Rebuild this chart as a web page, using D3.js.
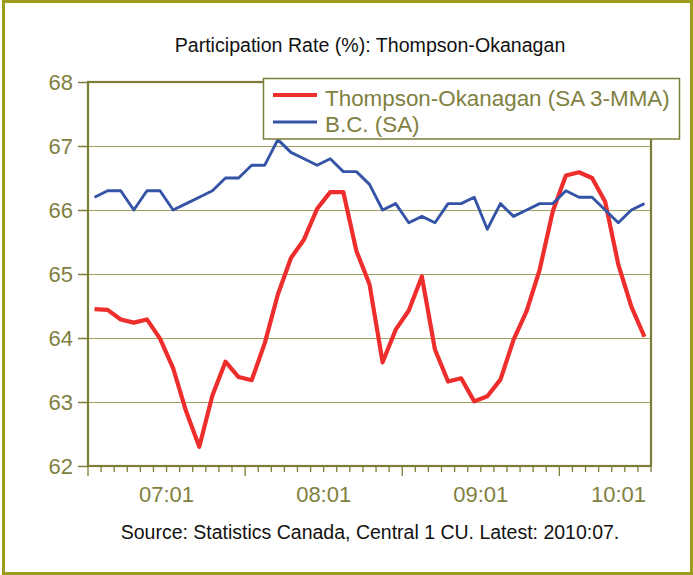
<!DOCTYPE html>
<html>
<head>
<meta charset="utf-8">
<script src="https://cdn.jsdelivr.net/npm/d3@7"></script>
<style>
  body { margin: 0; background: #fff; }
  svg { display: block; }
  text { font-family: "Liberation Sans", Arial, sans-serif; }
</style>
</head>
<body>
<svg id="chart" width="693" height="575"></svg>
<script>
// monthly categories, 2007:01 .. 2010:07
const months = [
  "07:01","07:02","07:03","07:04","07:05","07:06","07:07","07:08","07:09","07:10","07:11","07:12",
  "08:01","08:02","08:03","08:04","08:05","08:06","08:07","08:08","08:09","08:10","08:11","08:12",
  "09:01","09:02","09:03","09:04","09:05","09:06","09:07","09:08","09:09","09:10","09:11","09:12",
  "10:01","10:02","10:03","10:04","10:05","10:06","10:07"
];

// Thompson-Okanagan (SA 3-MMA)
const thompson = [
  64.45, 64.44, 64.29, 64.24, 64.29, 63.99, 63.53, 62.85, 62.30, 63.10, 63.63, 63.39,
  63.34, 63.92, 64.68, 65.25, 65.54, 66.02, 66.28, 66.28, 65.36, 64.84, 63.62, 64.13,
  64.43, 64.96, 63.82, 63.32, 63.37, 63.01, 63.09, 63.35, 63.97, 64.42, 65.07, 65.98,
  66.54, 66.59, 66.50, 66.13, 65.15, 64.49, 64.02
];

// B.C. (SA)
const bc = [
  66.2, 66.3, 66.3, 66.0, 66.3, 66.3, 66.0, 66.1, 66.2, 66.3, 66.5, 66.5,
  66.7, 66.7, 67.1, 66.9, 66.8, 66.7, 66.8, 66.6, 66.6, 66.4, 66.0, 66.1,
  65.8, 65.9, 65.8, 66.1, 66.1, 66.2, 65.7, 66.1, 65.9, 66.0, 66.1, 66.1,
  66.3, 66.2, 66.2, 66.0, 65.8, 66.0, 66.1
];

const yTicks = [62, 63, 64, 65, 66, 67, 68];
const xLabels = ["07:01", "08:01", "09:01", "10:01"];
const seriesNames = ["Thompson-Okanagan (SA 3-MMA)", "B.C. (SA)"];

const title = "Participation Rate (%): Thompson-Okanagan";
const source = "Source: Statistics Canada, Central 1 CU. Latest: 2010:07.";

const olive = "#808040";
const axisCol = "#7d7d3a";
const gridCol = "#a0a062";
const red = "#ee2d2d";
const blue = "#3554a6";

const svg = d3.select("#chart");

// outer frame
svg.append("rect")
    .attr("x", 3.5).attr("y", 1.5)
    .attr("width", 688).attr("height", 572)
    .attr("fill", "#fff")
    .attr("stroke", "#9c9c1c")
    .attr("stroke-width", 3);

const margin = { top: 82, left: 88, right: 42, bottom: 109 };
const width = 693 - margin.left - margin.right;
const height = 575 - margin.top - margin.bottom;

const x = d3.scaleBand().domain(months).range([0, width]).padding(0);
const y = d3.scaleLinear().domain([62, 68]).range([height, 0]);

const g = svg.append("g").attr("transform", `translate(${margin.left},${margin.top})`);

// gridlines
g.append("g")
    .attr("class", "grid")
    .call(d3.axisLeft(y).tickValues(yTicks.slice(1, -1)).tickSize(-width).tickFormat(""))
    .call(s => s.select(".domain").remove())
    .selectAll("line")
    .attr("stroke", gridCol)
    .attr("stroke-width", 1);

// y axis ticks + labels
const yAxis = g.append("g")
    .attr("class", "y axis")
    .call(d3.axisLeft(y).tickValues(yTicks).tickSize(10).tickPadding(5).tickFormat(d3.format("d")));
yAxis.select(".domain").remove();
yAxis.selectAll("line").attr("stroke", axisCol).attr("stroke-width", 1.5);
yAxis.selectAll("text")
    .attr("fill", olive)
    .style("font-size", "22px");

// x axis: minor tick every month, major every 12
const bw = x.bandwidth();
const bounds = d3.range(months.length + 1);
g.append("g")
    .attr("class", "x ticks")
    .selectAll("line")
    .data(bounds)
    .join("line")
    .attr("x1", i => i * bw).attr("x2", i => i * bw)
    .attr("y1", height)
    .attr("y2", i => height + (i % 12 === 0 && i < months.length ? 10 : 6))
    .attr("stroke", axisCol)
    .attr("stroke-width", 1.3);

const xl = g.append("g").attr("class", "x axis")
    .selectAll("text")
    .data(xLabels)
    .join("text")
    .attr("y", height + 36)
    .attr("text-anchor", "middle")
    .attr("fill", olive)
    .style("font-size", "22px")
    .text(d => d);
xl.attr("x", function(d) {
    const cx = x(d) + 6 * bw;
    const w = this.getComputedTextLength();
    return Math.min(cx, width - 5 - w / 2);
});

// plot border
g.append("rect")
    .attr("width", width).attr("height", height)
    .attr("fill", "none")
    .attr("stroke", axisCol)
    .attr("stroke-width", 2.2);

// lines
const line = d3.line()
    .x((d, i) => x(months[i]) + bw / 2)
    .y(d => y(d));

g.append("path")
    .datum(thompson)
    .attr("fill", "none")
    .attr("stroke", red)
    .attr("stroke-width", 4.2)
    .attr("stroke-linejoin", "round")
    .attr("d", line);

g.append("path")
    .datum(bc)
    .attr("fill", "none")
    .attr("stroke", blue)
    .attr("stroke-width", 2.9)
    .attr("stroke-linejoin", "round")
    .attr("d", line);

// legend
const lg = svg.append("g").attr("transform", "translate(263.5,78.5)");
lg.append("rect")
    .attr("width", 416).attr("height", 60.5)
    .attr("fill", "#fff")
    .attr("stroke", axisCol)
    .attr("stroke-width", 1.5);
[red, blue].forEach((c, i) => {
    lg.append("line")
        .attr("x1", 9.5).attr("x2", 53.5)
        .attr("y1", 16.5 + i * 27).attr("y2", 16.5 + i * 27)
        .attr("stroke", c)
        .attr("stroke-width", i === 0 ? 4.2 : 2.9);
    lg.append("text")
        .attr("x", 61.5)
        .attr("y", 27 + i * 26.5)
        .attr("fill", olive)
        .style("font-size", "22.4px")
        .text(seriesNames[i]);
});

// title and source
svg.append("text")
    .attr("x", 370).attr("y", 52)
    .attr("text-anchor", "middle")
    .attr("fill", "#111")
    .style("font-size", "19.6px")
    .text(title);

svg.append("text")
    .attr("x", 370).attr("y", 539)
    .attr("text-anchor", "middle")
    .attr("fill", "#111")
    .style("font-size", "19.5px")
    .text(source);
</script>
</body>
</html>
